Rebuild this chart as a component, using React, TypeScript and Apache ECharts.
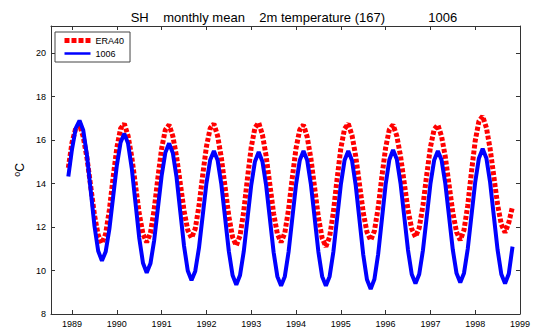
import React, { useEffect, useRef } from "react";
import * as echarts from "echarts";

const titleText = "SH    monthly mean    2m temperature (167)            1006";
const seriesNames = ["ERA40", "1006"];
const xTickYears = [1989, 1990, 1991, 1992, 1993, 1994, 1995, 1996, 1997, 1998, 1999];
const yTickValues = [8, 10, 12, 14, 16, 18, 20];
const startYear = 1988;
const startMonth = 12;

const era40 = [
  14.72, 15.9, 16.55,
  16.7, 16.15, 15.17, 13.87, 12.56, 11.63, 11.25, 11.69, 12.79, 14.28, 15.65, 16.53,
  16.75, 16.2, 15.22, 13.92, 12.61, 11.68, 11.3, 11.73, 12.81, 14.27, 15.62, 16.48,
  16.7, 16.18, 15.24, 14.0, 12.75, 11.86, 11.5, 11.92, 12.97, 14.39, 15.7, 16.54,
  16.75, 16.19, 15.18, 13.84, 12.49, 11.54, 11.15, 11.6, 12.73, 14.26, 15.67, 16.57,
  16.8, 16.25, 15.26, 13.94, 12.62, 11.69, 11.3, 11.73, 12.81, 14.27, 15.62, 16.48,
  16.7, 16.14, 15.13, 13.79, 12.44, 11.49, 11.1, 11.55, 12.68, 14.21, 15.62, 16.52,
  16.75, 16.22, 15.25, 13.97, 12.68, 11.77, 11.4, 11.82, 12.88, 14.32, 15.64, 16.49,
  16.7, 16.19, 15.26, 14.02, 12.79, 11.91, 11.55, 11.96, 12.99, 14.38, 15.67, 16.49,
  16.7, 16.17, 15.22, 13.94, 12.67, 11.77, 11.4, 11.86, 12.99, 14.54, 15.96, 16.87,
  17.1, 16.57, 15.6, 14.32, 13.03, 12.12, 11.75, 12.2, 12.95,
];

const exp1006 = [
  14.33, 15.6, 16.55,
  16.9, 16.45, 15.29, 13.68, 12.06, 10.9, 10.45, 10.86, 11.91, 13.38, 14.84, 15.89,
  16.3, 15.85, 14.7, 13.1, 11.5, 10.35, 9.9, 10.32, 11.39, 12.88, 14.36, 15.43,
  15.85, 15.41, 14.28, 12.7, 11.13, 9.99, 9.55, 9.97, 11.04, 12.53, 14.01, 15.08,
  15.5, 15.07, 13.96, 12.43, 10.89, 9.78, 9.35, 9.78, 10.88, 12.4, 13.93, 15.02,
  15.45, 15.02, 13.91, 12.38, 10.84, 9.73, 9.3, 9.73, 10.85, 12.4, 13.95, 15.07,
  15.5, 15.07, 13.95, 12.4, 10.85, 9.73, 9.3, 9.73, 10.85, 12.4, 13.95, 15.07,
  15.5, 15.06, 13.91, 12.33, 10.74, 9.59, 9.15, 9.6, 10.75, 12.35, 13.95, 15.1,
  15.55, 15.12, 14.01, 12.48, 10.94, 9.83, 9.4, 9.83, 10.93, 12.45, 13.98, 15.07,
  15.5, 15.08, 13.99, 12.48, 10.96, 9.87, 9.45, 9.88, 10.99, 12.53, 14.06, 15.17,
  15.6, 15.17, 14.05, 12.5, 10.95, 9.83, 9.4, 9.85, 11.1,
];

const FONT = "'Liberation Sans', Arial, Helvetica, sans-serif";
const AXIS_COLOR = "#333";

function toPairs(values: number[]) {
  return values.map((v, i) => [startYear + (startMonth - 1 + i) / 12, v]);
}

export default function App() {
  const ref = useRef<HTMLDivElement>(null);
  useEffect(() => {
    if (!ref.current) return;
    const chart = echarts.init(ref.current, null, { renderer: "svg" });
    const xMin = 1988.53;
    const xMax = 1999;
    const yMin = 8;
    const yMax = 21.25;
    const tickStyle = { color: AXIS_COLOR, width: 1 };
    const redLine = { color: "#ff0000", width: 5, type: [4, 2], cap: "butt" };
    const blueLine = { color: "#0000ff", width: 4 };
    const xBase = {
      type: "value",
      min: xMin,
      max: xMax,
      splitLine: { show: false },
      axisLine: { show: true, onZero: false, lineStyle: tickStyle },
    };
    const yBase = {
      type: "value",
      min: yMin,
      max: yMax,
      splitLine: { show: false },
      axisLine: { show: true, onZero: false, lineStyle: tickStyle },
    };
    chart.setOption({
      animation: false,
      backgroundColor: "#fff",
      textStyle: { fontFamily: FONT },
      title: {
        text: titleText,
        left: 289,
        top: 6,
        textAlign: "center",
        textStyle: { fontFamily: FONT, fontSize: 13, fontWeight: "normal", color: "#000" },
      },
      legend: {
        orient: "vertical",
        left: 55,
        top: 32,
        padding: [4, 6, 4, 7],
        itemWidth: 26,
        itemHeight: 9,
        itemGap: 4,
        borderColor: "#444",
        borderWidth: 1,
        backgroundColor: "#fff",
        itemStyle: { opacity: 0 },
        textStyle: { fontFamily: FONT, fontSize: 9, color: "#000" },
        data: [
          { name: seriesNames[0], lineStyle: { width: 5, type: [5, 2], color: "#ff0000" } },
          { name: seriesNames[1], lineStyle: { width: 2.5, color: "#0000ff" } },
        ],
      },
      grid: { left: 51, right: 6, top: 26, bottom: 15, containLabel: false },
      xAxis: [
        {
          ...xBase,
          position: "bottom",
          axisTick: { show: true, inside: true, length: 4, customValues: xTickYears, lineStyle: tickStyle },
          axisLabel: {
            show: true,
            customValues: xTickYears,
            fontFamily: FONT,
            fontSize: 9,
            color: "#000",
            margin: 5,
            formatter: (v: number) => String(Math.round(v)),
          },
        },
        {
          ...xBase,
          position: "top",
          axisTick: { show: true, inside: true, length: 4, customValues: xTickYears, lineStyle: tickStyle },
          axisLabel: { show: false },
        },
      ],
      yAxis: [
        {
          ...yBase,
          position: "left",
          name: "{sup|o}{base|C}",
          nameLocation: "middle",
          nameRotate: 90,
          nameGap: 24,
          nameMoveOverlap: false,
          nameTextStyle: {
            rich: {
              sup: { fontSize: 9, fontFamily: FONT, color: "#000", verticalAlign: "top", lineHeight: 15, padding: [0, 0, 6, 0] },
              base: { fontSize: 12, fontFamily: FONT, color: "#000", lineHeight: 15 },
            },
          },
          axisTick: { show: true, inside: true, length: 4, customValues: yTickValues, lineStyle: tickStyle },
          axisLabel: {
            show: true,
            customValues: yTickValues,
            fontFamily: FONT,
            fontSize: 9,
            color: "#000",
            margin: 5,
          },
        },
        {
          ...yBase,
          position: "right",
          axisTick: { show: true, inside: true, length: 4, customValues: yTickValues, lineStyle: tickStyle },
          axisLabel: { show: false },
        },
      ],
      series: [
        {
          name: seriesNames[0],
          type: "line",
          xAxisIndex: 0,
          yAxisIndex: 0,
          symbol: "none",
          data: toPairs(era40),
          color: "#ff0000",
          lineStyle: redLine,
          z: 2,
        },
        {
          name: seriesNames[1],
          type: "line",
          xAxisIndex: 0,
          yAxisIndex: 0,
          symbol: "none",
          data: toPairs(exp1006),
          color: "#0000ff",
          lineStyle: blueLine,
          z: 3,
        },
      ],
    });
    return () => chart.dispose();
  }, []);
  return (
    <div
      ref={ref}
      style={{ position: "absolute", left: 0, top: 0, width: 533, height: 329 }}
    />
  );
}
